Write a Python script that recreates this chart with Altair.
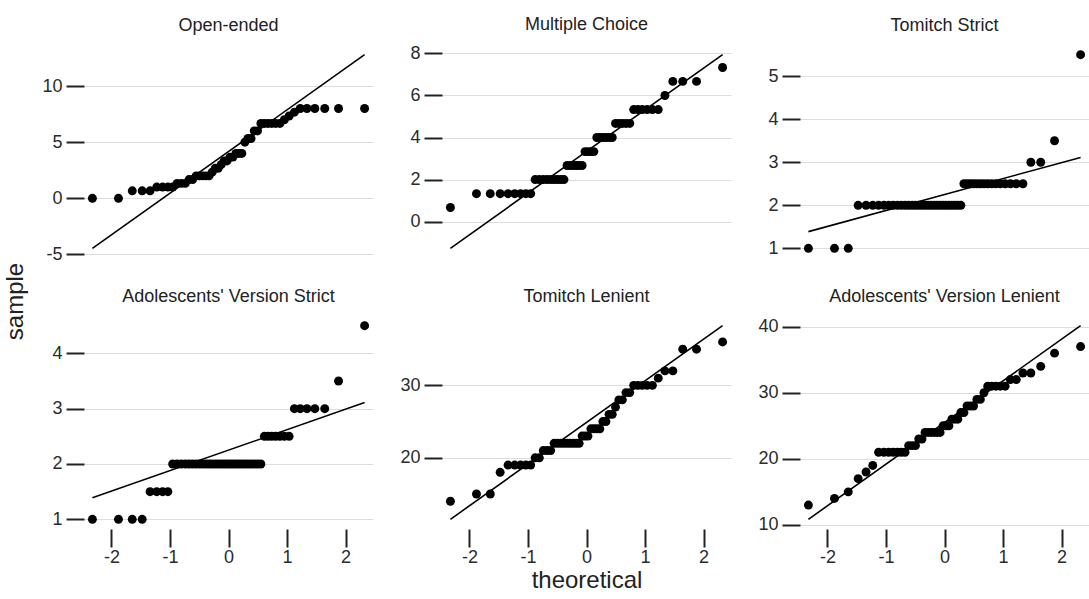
import altair as alt
import pandas as pd
import numpy as np
from statistics import NormalDist

# ---- data (sorted sample values, n = 50 each) ----
titles = ["Open-ended", "Multiple Choice", "Tomitch Strict",
          "Adolescents' Version Strict", "Tomitch Lenient", "Adolescents' Version Lenient"]

open_ended = ([0] * 2 + [0.67] * 3 + [1] * 4 + [1.33] * 3 + [1.67] * 2 + [2] * 5 + [2.33]
              + [2.67] * 2 + [3] + [3.33] * 2 + [3.67] * 2 + [4] * 3 + [5] + [5.33] * 2
              + [6] * 2 + [6.67] * 6 + [7] + [7.33] + [7.67] + [8] * 6)
multiple_choice = ([0.67] + [1.33] * 8 + [2] * 9 + [2.67] * 6 + [3.33] * 4 + [4] * 6
                   + [4.67] * 5 + [5.33] * 6 + [6] + [6.67] * 3 + [7.33])
tomitch_strict = [1] * 3 + [2] * 28 + [2.5] * 15 + [3] * 2 + [3.5] + [5.5]
adol_strict = [1] * 4 + [1.5] * 4 + [2] * 28 + [2.5] * 7 + [3] * 5 + [3.5] + [4.5]
tomitch_lenient = ([14, 15, 15, 18] + [19] * 5 + [20] * 2 + [21] * 3 + [22] * 9 + [23] * 3
                   + [24] * 4 + [25] * 2 + [26] * 2 + [27] + [28] * 2 + [29] * 2 + [30] * 5
                   + [31] + [32] * 2 + [35] * 2 + [36])
adol_lenient = ([13, 14, 15, 17, 18, 19] + [21] * 7 + [22] * 3 + [23] * 2 + [24] * 6
                + [25] * 3 + [26] * 3 + [27] * 2 + [28] * 3 + [29] * 2 + [30] + [31] * 5
                + [32] * 2 + [33] * 2 + [34, 36, 37])

samples = [open_ended, multiple_choice, tomitch_strict, adol_strict, tomitch_lenient, adol_lenient]

y_ticks = [[-5, 0, 5, 10], [0, 2, 4, 6, 8], [1, 2, 3, 4, 5],
           [1, 2, 3, 4], [20, 30], [10, 20, 30, 40]]
x_ticks = [-2, -1, 0, 1, 2]

# ---- styling ----
FONT = "Liberation Sans, Arial, Helvetica, sans-serif"
W, H = 289, 213
XDOM = [-2.47, 2.47]
LBL = 18
nd = NormalDist()

charts = []
for k, (title, vals, yt) in enumerate(zip(titles, samples, y_ticks)):
    v = np.sort(np.array(vals, dtype=float))
    n = len(v)
    theo = [nd.inv_cdf((i + 0.5) / n) for i in range(n)]
    q1, q3 = np.quantile(v, [0.25, 0.75])
    z1, z3 = nd.inv_cdf(0.25), nd.inv_cdf(0.75)
    slope = (q3 - q1) / (z3 - z1)
    icpt = q1 - slope * z1
    lx = [theo[0], theo[-1]]
    ly = [icpt + slope * x for x in lx]
    lo = min(v.min(), min(ly))
    hi = max(v.max(), max(ly))
    pad = 0.05 * (hi - lo)
    ydom = [lo - pad, hi + pad]

    pts = pd.DataFrame({"theoretical": theo, "sample": v})
    ln = pd.DataFrame({"theoretical": lx, "sample": ly})

    if k >= 3:
        xaxis = alt.Axis(values=x_ticks, grid=False, domain=False, tickSize=18, tickWidth=2,
                         tickColor="#222222", labelFontSize=LBL, labelFont=FONT,
                         labelColor="#2b2b2b", labelPadding=1, labelExpr="'' + datum.value",
                         title="theoretical" if k == 4 else None, titleFontSize=24,
                         titleFont=FONT, titleFontWeight="normal", titleColor="#222222",
                         titlePadding=2)
    else:
        xaxis = None

    yaxis_kwargs = dict(values=yt, grid=True, gridColor="#dddddd", gridWidth=1, domain=False,
                        tickSize=18, tickWidth=2, tickColor="#222222", labelFontSize=LBL,
                        labelFont=FONT, labelColor="#2b2b2b", labelPadding=4,
                        labelExpr="'' + datum.value")
    if k == 0:
        yaxis = alt.Axis(title="sample", titleFontSize=24, titleFont=FONT,
                         titleFontWeight="normal", titleColor="#222222", titleAngle=270,
                         titleX=-69, titleY=256, titleAlign="center", titleBaseline="middle",
                         **yaxis_kwargs)
    else:
        yaxis = alt.Axis(title=None, **yaxis_kwargs)

    xenc = alt.X("theoretical:Q", scale=alt.Scale(domain=XDOM, nice=False, zero=False), axis=xaxis)
    yenc = alt.Y("sample:Q", scale=alt.Scale(domain=ydom, nice=False, zero=False), axis=yaxis)

    points = alt.Chart(pts).mark_circle(size=80, color="black", opacity=1).encode(x=xenc, y=yenc)
    line = alt.Chart(ln).mark_line(color="black", strokeWidth=1.6).encode(x=xenc, y=yenc)

    panel = alt.layer(line, points).properties(
        width=W, height=H,
        title=alt.TitleParams(text=title, fontSize=LBL, font=FONT, fontWeight="normal",
                              color="#222222", offset=10, anchor="middle"))
    charts.append(panel)

chart = alt.concat(*charts, columns=3, spacing={"row": 58, "column": 69}, bounds="flush").properties(
    padding={"left": 3, "top": 16, "right": 0, "bottom": 0}
).configure_view(stroke=None)

chart.save("out.html", embed_options={"renderer": "svg", "actions": False})
